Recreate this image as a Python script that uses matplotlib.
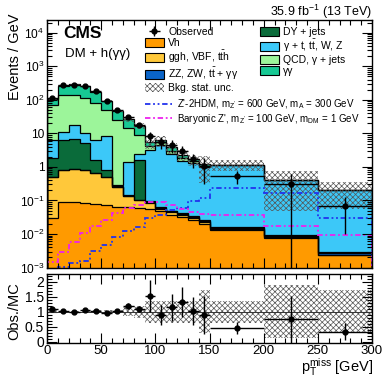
import numpy as np
import matplotlib
matplotlib.use('Agg')
import matplotlib.pyplot as plt
from matplotlib.patches import Patch
from matplotlib.lines import Line2D
from matplotlib.ticker import FixedLocator, LogLocator, NullFormatter, MultipleLocator, FixedFormatter

plt.rcParams['font.family'] = ['Liberation Sans', 'DejaVu Sans']
plt.rcParams['mathtext.fontset'] = 'custom'
plt.rcParams['mathtext.rm'] = 'Liberation Sans'
plt.rcParams['mathtext.it'] = 'Liberation Sans:italic'
plt.rcParams['mathtext.bf'] = 'Liberation Sans:bold'
plt.rcParams['hatch.linewidth'] = 0.5

# ---------------- data ----------------
bin_edges = [0, 10, 20, 30, 40, 50, 60, 70, 80, 90, 100, 110, 120, 130, 140, 150, 200, 250, 300]

vh = [0.030, 0.089, 0.089, 0.083, 0.079, 0.071, 0.066, 0.062, 0.058, 0.054, 0.047, 0.038, 0.032, 0.027, 0.020, 0.0132, 0.0076, 0.0023]
ggh = [0.46, 0.72, 0.76, 0.71, 0.57, 0.43, 0.185, 0.070, 0.042, 0.030, 0.009, 0.006, 0.004, 0.0026, 0.002, 0.0009, 0.00035, 0.0001]
zz_ttgg = [0.011, 0.02, 0.02, 0.02, 0.015, 0.012, 0.008, 0.003, 0.002, 0.004, 0.004, 0.003, 0.0025, 0.0021, 0.0016, 0.001, 0.0006, 0.00024]
dy_jets = [1.32, 5.48, 5.74, 4.20, 0.96, 0.30, 0.009, 0.006, 1.56, 0.006, 0.006, 0.003, 0.0027, 0.0023, 0.0017, 0.0015, 0.0006, 0.00026]
gamma_tvj = [4.49, 4.91, 11.2, 4.99, 4.69, 7.32, 0.017, 1.30, 0.85, 3.07, 4.50, 2.35, 1.47, 1.28, 0.97, 1.105, 0.389, 0.197]
qcd_gjets = [64.5, 130, 120, 102, 73.1, 42.0, 24.8, 12.7, 6.40, 1.01, 0.93, 0.62, 0.35, 0.20, 0.10, 0.01, 0.005, 0.002]
diphoton = [33.9, 122, 150, 139, 98.4, 45.4, 22.8, 12.2, 7.69, 1.33, 0.81, 0.87, 0.43, 0.18, 0.11, 0.015, 0.007, 0.003]

bkg_stat_rel = [0.04, 0.03, 0.03, 0.03, 0.04, 0.05, 0.06, 0.15, 0.20, 0.36, 0.36, 0.36, 0.36, 0.36, 0.72, 0.36, 0.88, 0.72]

ratio = [1.08, 1.03, 0.98, 1.06, 1.03, 0.97, 1.03, 1.19, 1.09, 1.53, 0.89, 1.14, 1.31, 1.02, 0.89, 0.47, 0.74, 0.33]
ratio_err = [0.04, 0.02, 0.02, 0.02, 0.03, 0.03, 0.04, 0.09, 0.10, 0.53, 0.33, 0.45, 0.50, 0.46, 0.64, 0.20, 0.78, 0.28]

z2hdm = [0.0004, 0.00107, 0.00132, 0.00158, 0.00316, 0.00468, 0.0083, 0.0126, 0.0166, 0.0295, 0.0372, 0.0525, 0.0589, 0.0933, 0.117, 0.234, 0.166, 0.0295]
baryonic = [0.00141, 0.00295, 0.00589, 0.0105, 0.0178, 0.0263, 0.0417, 0.0589, 0.0741, 0.0891, 0.0891, 0.0708, 0.0562, 0.0468, 0.0398, 0.0372, 0.0174, 0.0093]

# ---------------- figure ----------------
W, H = 382, 378
fig = plt.figure(figsize=(W / 100, H / 100), dpi=100)

def fx(x):
    return x / W

def fy(y):
    return 1 - y / H

ax = fig.add_axes([fx(47), fy(267.5), (372 - 47) / W, (267.5 - 19.5) / H])
rax = fig.add_axes([fx(47), fy(343.3), (372 - 47) / W, (343.3 - 274) / H])

edges = np.array(bin_edges, dtype=float)
centers = 0.5 * (edges[1:] + edges[:-1])
halfw = 0.5 * (edges[1:] - edges[:-1])

layers = [
    (vh, '#ff9a00', 'Vh'),
    (ggh, '#ffc83a', r'ggh, VBF, t$\mathrm{\bar{t}}$h'),
    (zz_ttgg, '#0a64c8', r'ZZ, ZW, t$\mathrm{\bar{t}}$ + γγ'),
    (dy_jets, '#0a6b3a', 'DY + jets'),
    (gamma_tvj, '#3cc8f8', r'γ + t, t$\mathrm{\bar{t}}$, W, Z'),
    (qcd_gjets, '#9cf59a', 'QCD, γ + jets'),
    (diphoton, '#17c994', 'γγ'),
]

base = np.full(len(centers), 1e-6)
handles = {}
for vals, col, lab in layers:
    top = base + np.array(vals)
    ax.stairs(top, edges, baseline=base, fill=True, color=col, lw=0)
    base = top
    handles[lab] = Patch(facecolor=col, edgecolor='black', lw=0.8)
total = base.copy()

cum = np.full(len(centers), 1e-6)
for vals, col, lab in layers:
    cum = cum + np.array(vals)
    ax.stairs(cum, edges, color='black', lw=0.9)

rel = np.array(bkg_stat_rel)
ax.bar(edges[:-1], 2 * rel * total, bottom=total * (1 - rel), width=np.diff(edges), align='edge',
       facecolor='none', edgecolor='#555555', hatch='xxxxxx', lw=0)

sig_style1 = (0, (3, 1.5, 1, 1.5, 1, 1.5))
sig_style2 = (0, (3, 1.5, 1, 1.5))
ax.stairs(z2hdm, edges, color='#2233ee', lw=1.3, linestyle=sig_style1)
ax.stairs(baryonic, edges, color='#ee22ee', lw=1.3, linestyle=sig_style2)

obs = np.array(ratio) * total
obs_err = np.array(ratio_err) * total
obs_c = ax.errorbar(centers, obs, xerr=halfw, yerr=obs_err, fmt='o', color='black', ms=3.5,
                    elinewidth=1.0, capsize=0)

ax.set_xlim(0, 300)
ax.set_yscale('log')
ax.set_ylim(1e-3, 2.5e4)

ymaj = [1e-3, 1e-2, 1e-1, 1, 10, 1e2, 1e3, 1e4]
ylab = [r'$10^{-3}$', r'$10^{-2}$', r'$10^{-1}$', '1', '10', r'$10^{2}$', r'$10^{3}$', r'$10^{4}$']
ax.yaxis.set_major_locator(FixedLocator(ymaj))
ax.yaxis.set_major_formatter(FixedFormatter(ylab))
ax.yaxis.set_minor_locator(LogLocator(base=10, subs=np.arange(2, 10)))
ax.yaxis.set_minor_formatter(NullFormatter())
for a in (ax, rax):
    a.xaxis.set_major_locator(MultipleLocator(50))
    a.xaxis.set_minor_locator(MultipleLocator(10))
    a.tick_params(which='both', direction='in', top=True, right=True, labelsize=8.6, width=0.8)
    a.tick_params(which='major', length=7)
    a.tick_params(which='minor', length=3.5)
    for s in a.spines.values():
        s.set_linewidth(1.0)
ax.tick_params(labelbottom=False, pad=2)

# ratio panel
rax.bar(edges[:-1], 2 * rel, bottom=1 - rel, width=np.diff(edges), align='edge',
        facecolor='none', edgecolor='#555555', hatch='xxxxxx', lw=0)
rax.axhline(1, color='#333333', lw=0.7)
rax.errorbar(centers, ratio, xerr=halfw, yerr=ratio_err, fmt='o', color='black', ms=3.5,
             elinewidth=1.0, capsize=0)
rax.set_xlim(0, 300)
rax.set_ylim(-0.05, 2.25)
rax.yaxis.set_major_locator(FixedLocator([0, 0.5, 1, 1.5, 2]))
rax.yaxis.set_major_formatter(FixedFormatter(['0', '0.5', '1', '1.5', '2']))
rax.yaxis.set_minor_locator(MultipleLocator(0.1))
rax.tick_params(axis='x', pad=1.5, labelsize=9.5)
rax.tick_params(axis='y', pad=2, labelsize=10)

# texts
fig.text(fx(15), fy(14), 'Events / GeV', rotation=90, ha='center', va='top', fontsize=10.5)
fig.text(fx(14), fy(311), 'Obs./MC', rotation=90, ha='center', va='center', fontsize=10.5)
fig.text(fx(373), fy(371.5), r'p$_{\mathrm{T}}^{\mathrm{miss}}$ [GeV]', ha='right', va='baseline', fontsize=10.5)
fig.text(fx(372), fy(12), r'35.9 fb$^{-1}$ (13 TeV)', ha='right', va='center', fontsize=9)
fig.text(fx(63), fy(33), 'CMS', ha='left', va='center', fontsize=12.5, weight='bold')
fig.text(fx(65), fy(54), 'DM + h(γγ)', ha='left', va='center', fontsize=9.5)

# legends
lab = [l[2] for l in layers]
unc = Patch(facecolor='white', edgecolor='#555555', hatch='xxxxxx', lw=0)
common = dict(loc='upper left', frameon=False, fontsize=7.5, handlelength=1.8, handleheight=0.9,
              handletextpad=0.45, labelspacing=0.1, borderpad=0, borderaxespad=0)
leg1 = fig.legend([obs_c, handles[lab[0]], handles[lab[1]], handles[lab[2]], unc],
                  ['Observed', lab[0], lab[1], lab[2], 'Bkg. stat. unc.'],
                  bbox_to_anchor=(fx(145), fy(27)), **common)
leg2 = fig.legend([handles[lab[3]], handles[lab[4]], handles[lab[5]], handles[lab[6]]],
                  [lab[3], lab[4], lab[5], lab[6]],
                  bbox_to_anchor=(fx(260), fy(27)), **common)
h1 = Line2D([], [], color='#2233ee', lw=1.3, linestyle=sig_style1)
h2 = Line2D([], [], color='#ee22ee', lw=1.3, linestyle=sig_style2)
leg3 = fig.legend([h1, h2],
                  [r"Z'-2HDM, m$_{\mathrm{Z'}}$ = 600 GeV, m$_{\mathrm{A}}$ = 300 GeV",
                   r"Baryonic Z', m$_{\mathrm{Z'}}$ = 100 GeV, m$_{\mathrm{DM}}$ = 1 GeV"],
                  loc='upper left', bbox_to_anchor=(fx(145), fy(97.5)), frameon=False, fontsize=7.0,
                  handlelength=2.8, handletextpad=0.5, labelspacing=0.05,
                  borderpad=0, borderaxespad=0)

fig.savefig('out.png', dpi=100)
